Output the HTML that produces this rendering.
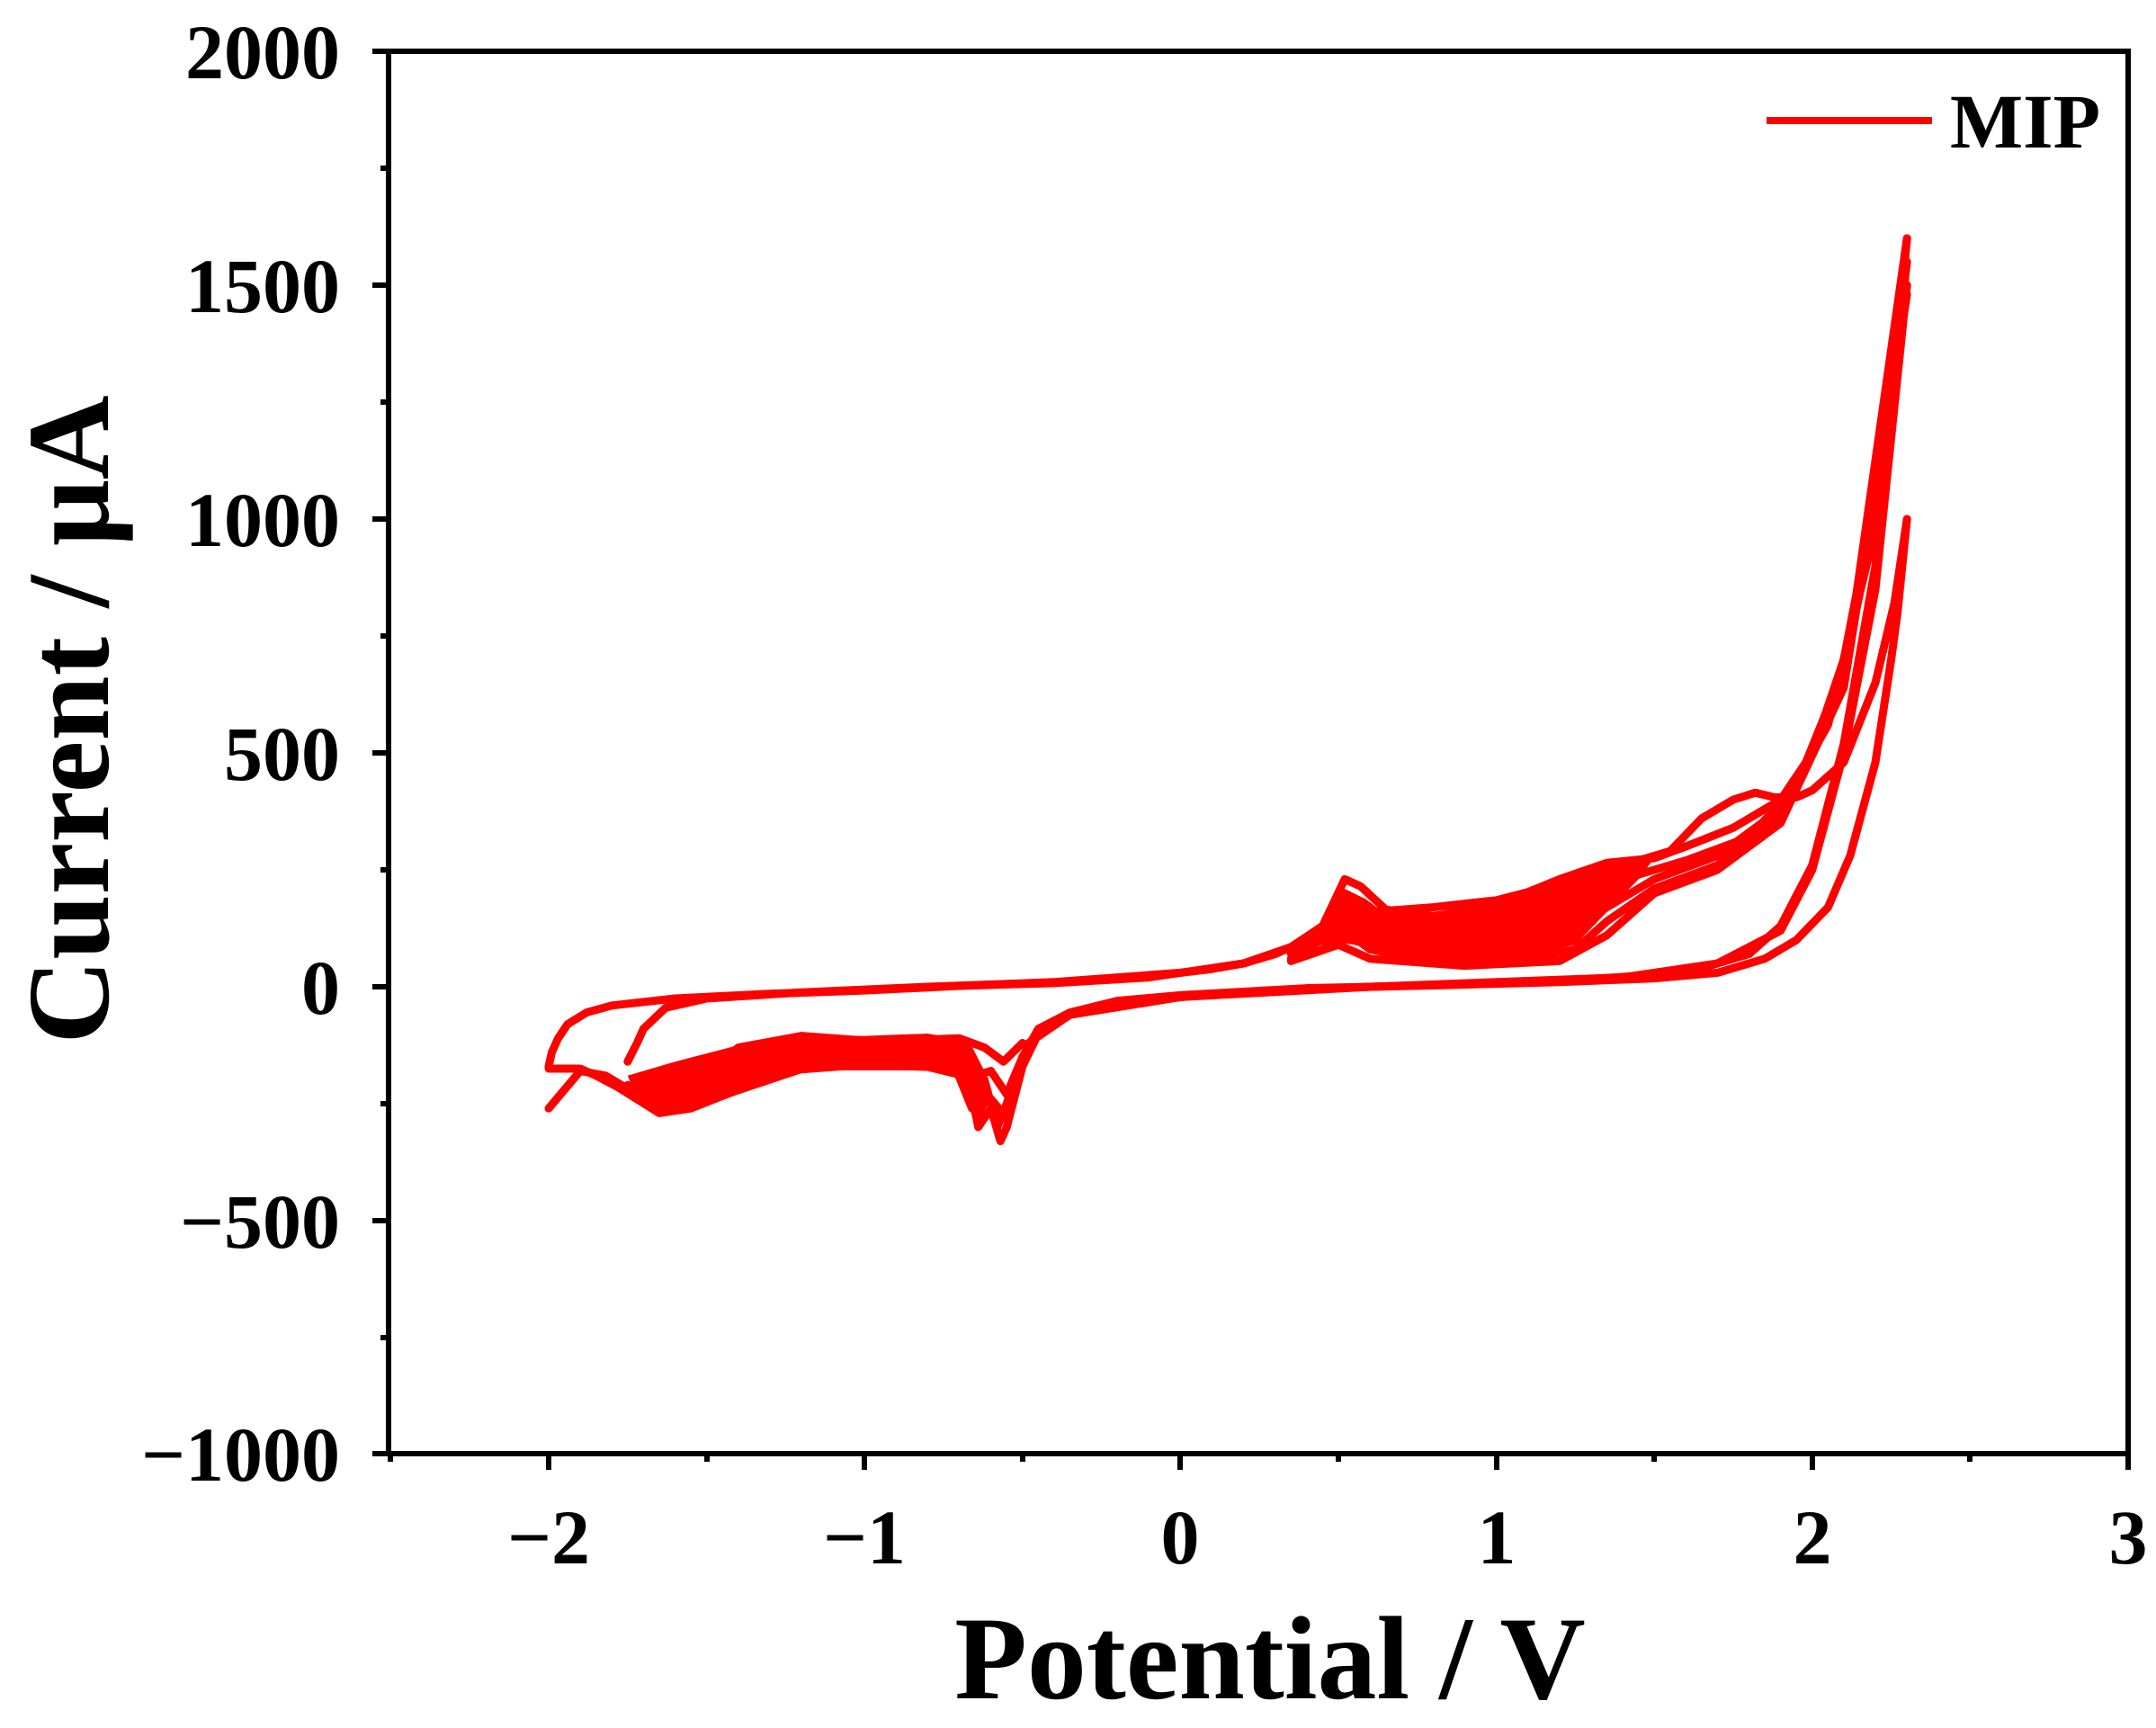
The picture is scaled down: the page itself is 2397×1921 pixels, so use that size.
<!DOCTYPE html>
<html><head><meta charset="utf-8"><style>
html,body{margin:0;padding:0;background:#fff;}
svg{display:block;}
text{font-family:"Liberation Serif",serif;font-weight:bold;fill:#000;}
</style></head><body>
<svg width="2397" height="1921" viewBox="0 0 2397 1921" xmlns="http://www.w3.org/2000/svg">
<rect width="2397" height="1921" fill="#fff"/>
<g transform="translate(1312.4,1097) scale(351.2,-0.52)" fill="none" stroke="#ff0000" stroke-width="9" stroke-linejoin="round" stroke-linecap="round">
<!-- filled bands -->
<polygon vector-effect="non-scaling-stroke" fill="#ff0000" stroke="none" points="-1.75,-190 -1.6,-160 -1.4,-125 -1.2,-105 -1.0,-105 -0.8,-100 -0.68,-115 -0.62,-180 -0.6,-240 -0.64,-290 -0.68,-200 -0.8,-180 -1.0,-175 -1.2,-185 -1.4,-230 -1.55,-265 -1.65,-270 -1.72,-240"/>
<polygon vector-effect="non-scaling-stroke" fill="#ff0000" stroke="none" points="0.45,100 0.52,200 0.6,170 0.8,160 1.0,180 1.2,225 1.35,262 1.5,275 1.45,230 1.35,160 1.25,90 1.1,65 0.9,60 0.7,60 0.55,90"/>
<!-- upper envelope / first forward -->
<polyline vector-effect="non-scaling-stroke" points="-2,-170 -1.99,-140 -1.97,-110 -1.94,-80 -1.88,-55 -1.8,-40 -1.6,-25 -1.3,-15 -1,-8 -0.7,2 -0.4,8 -0.1,20 0,30 0.1,38 0.2,50 0.3,70 0.4,100 0.5,140 0.6,160 0.8,170 1.0,185 1.2,220 1.4,260 1.55,290 1.65,360 1.75,400 1.82,415 1.88,405 1.95,405 2.0,420 2.1,480 2.2,650 2.26,820 2.3,1000"/>
<polyline vector-effect="non-scaling-stroke" points="2.3,1000 2.27,800 2.25,700 2.2,480 2.12,280 2.05,170 1.95,100 1.85,60 1.7,30 1.5,18 1.2,10 0.8,3 0.4,-3 0,-18 -0.2,-30 -0.35,-55 -0.45,-90 -0.5,-150 -0.55,-250 -0.58,-300 -0.62,-200 -0.68,-120 -0.8,-110 -1.0,-115 -1.2,-105 -1.4,-130 -1.55,-210 -1.62,-250 -1.72,-230 -1.82,-190 -1.9,-180 -2,-260"/>
<polyline vector-effect="non-scaling-stroke" points="-1.75,-160 -1.72,-120 -1.7,-90 -1.63,-45 -1.5,-25 -1.2,-12 -0.8,0 -0.4,10 0,30 0.2,50 0.35,85 0.45,130 0.52,230 0.57,215 0.65,165 0.8,150 1.0,175 1.2,230 1.35,265 1.5,275 1.6,300 1.75,340 1.9,400 2.0,500 2.1,700 2.2,1050 2.3,1600"/>
<polyline vector-effect="non-scaling-stroke" points="0.35,80 0.45,120 0.52,200 0.58,180 0.7,120 0.9,100 1.1,120 1.3,190 1.45,240 1.6,270 1.8,320 1.95,430 2.1,680 2.2,1000 2.3,1500"/>
<polyline vector-effect="non-scaling-stroke" points="0.35,70 0.45,100 0.52,160 0.6,120 0.75,80 1.0,80 1.2,110 1.35,170 1.5,230 1.7,280 1.9,380 2.05,560 2.2,980 2.3,1550"/>
<polyline vector-effect="non-scaling-stroke" points="0.35,60 0.45,80 0.52,120 0.6,80 0.8,55 1.1,60 1.25,80 1.35,140 1.5,210 1.7,260 1.9,360 2.1,650 2.3,1600"/>
<polyline vector-effect="non-scaling-stroke" points="0.35,55 0.5,90 0.6,60 0.9,45 1.2,55 1.35,110 1.5,200 1.7,250 1.9,350 2.1,640 2.3,1480"/>
<polyline vector-effect="non-scaling-stroke" points="2.3,1600 2.2,900 2.1,520 2.0,260 1.9,130 1.8,70 1.6,30 1.2,12 0.6,0 0.2,-12 0,-22 -0.2,-35 -0.35,-60 -0.45,-100 -0.5,-170 -0.55,-300 -0.57,-330 -0.6,-260 -0.64,-300 -0.67,-200 -0.75,-170 -1.0,-170 -1.2,-170 -1.4,-220 -1.55,-260 -1.65,-270 -1.78,-215 -1.85,-190 -1.9,-175 -2,-175"/>
<polyline vector-effect="non-scaling-stroke" points="2.3,1500 2.2,850 2.1,500 2.0,250 1.9,120 1.7,50 1.4,20 0.6,0 0,-22 -0.35,-60 -0.48,-120 -0.55,-280 -0.6,-240 -0.66,-260 -0.72,-160 -0.9,-150 -1.2,-155 -1.45,-220 -1.6,-255 -1.75,-220 -1.85,-190"/>
<polyline vector-effect="non-scaling-stroke" points="-0.5,-150 -0.55,-230 -0.6,-180 -0.65,-190 -0.72,-140 -0.9,-130 -1.15,-135 -1.4,-190 -1.58,-240 -1.75,-210"/>
<polyline vector-effect="non-scaling-stroke" points="-0.5,-120 -0.56,-160 -0.62,-130 -0.7,-110 -0.9,-115 -1.1,-120 -1.35,-160 -1.55,-220 -1.7,-200"/>
</g>
<g stroke="#000" stroke-width="6" fill="none">
<rect x="432" y="57" width="1934" height="1559"/>
</g>
<g stroke="#000" stroke-width="6">
<line x1="414" y1="57" x2="432" y2="57"/>
<line x1="414" y1="317" x2="432" y2="317"/>
<line x1="414" y1="577" x2="432" y2="577"/>
<line x1="414" y1="837" x2="432" y2="837"/>
<line x1="414" y1="1097" x2="432" y2="1097"/>
<line x1="414" y1="1357" x2="432" y2="1357"/>
<line x1="414" y1="1616" x2="432" y2="1616"/>
<line x1="423" y1="187" x2="432" y2="187"/>
<line x1="423" y1="447" x2="432" y2="447"/>
<line x1="423" y1="707" x2="432" y2="707"/>
<line x1="423" y1="967" x2="432" y2="967"/>
<line x1="423" y1="1227" x2="432" y2="1227"/>
<line x1="423" y1="1487" x2="432" y2="1487"/>
<line x1="610" y1="1616" x2="610" y2="1634"/>
<line x1="961" y1="1616" x2="961" y2="1634"/>
<line x1="1312" y1="1616" x2="1312" y2="1634"/>
<line x1="1664" y1="1616" x2="1664" y2="1634"/>
<line x1="2015" y1="1616" x2="2015" y2="1634"/>
<line x1="2366" y1="1616" x2="2366" y2="1634"/>
<line x1="434" y1="1616" x2="434" y2="1625"/>
<line x1="786" y1="1616" x2="786" y2="1625"/>
<line x1="1137" y1="1616" x2="1137" y2="1625"/>
<line x1="1488" y1="1616" x2="1488" y2="1625"/>
<line x1="1839" y1="1616" x2="1839" y2="1625"/>
<line x1="2190" y1="1616" x2="2190" y2="1625"/>
</g>
<g font-size="86" text-anchor="end">
<text x="378" y="87">2000</text>
<text x="378" y="347">1500</text>
<text x="378" y="607">1000</text>
<text x="378" y="867">500</text>
<text x="378" y="1127">0</text>
<text x="378" y="1387">−500</text>
<text x="378" y="1646">−1000</text>
</g>
<g font-size="86" text-anchor="middle">
<text x="610" y="1738">−2</text>
<text x="961" y="1738">−1</text>
<text x="1312" y="1738">0</text>
<text x="1664" y="1738">1</text>
<text x="2015" y="1738">2</text>
<text x="2366" y="1738">3</text>
</g>
<text x="1412" y="1888" font-size="132" text-anchor="middle">Potential / V</text>
<text transform="translate(120,800) rotate(-90)" font-size="130" text-anchor="middle">Current / μA</text>
<line x1="1964" y1="134" x2="2148" y2="134" stroke="#ff0000" stroke-width="8"/>
<text x="2168" y="164" font-size="86">MIP</text>
</svg>
</body></html>
